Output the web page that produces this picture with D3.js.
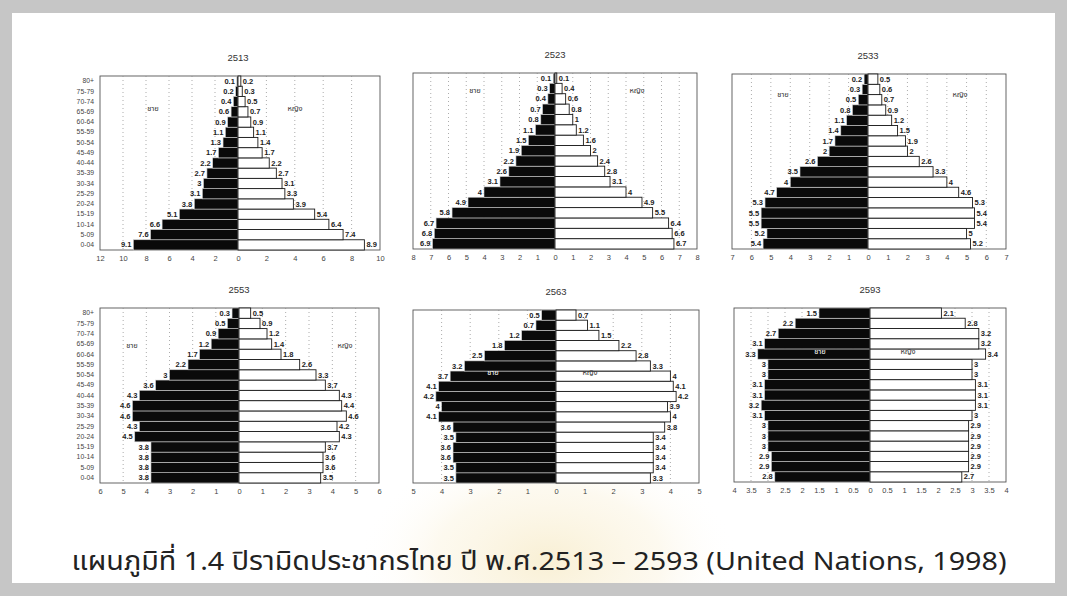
<!DOCTYPE html>
<html><head><meta charset="utf-8">
<script src="https://cdn.jsdelivr.net/npm/d3@7"></script>
<style>
html,body{margin:0;padding:0;background:#c6c6c6;}
svg{display:block;}
</style></head><body>
<svg id="chart" width="1067" height="596"></svg>
<script>
// ---------- data ----------
const ageGroups = ["0-04","5-09","10-14","15-19","20-24","25-29","30-34","35-39","40-44","45-49","50-54","55-59","60-64","65-69","70-74","75-79","80+"];
const years = ["2513","2523","2533","2553","2563","2593"];

const male2513   = [9.1,7.6,6.6,5.1,3.8,3.1,3,2.7,2.2,1.7,1.3,1.1,0.9,0.6,0.4,0.2,0.1];
const female2513 = [8.9,7.4,6.4,5.4,3.9,3.3,3.1,2.7,2.2,1.7,1.4,1.1,0.9,0.7,0.5,0.3,0.2];
const male2523   = [6.9,6.8,6.7,5.8,4.9,4,3.1,2.6,2.2,1.9,1.5,1.1,0.8,0.7,0.4,0.3,0.1];
const female2523 = [6.7,6.6,6.4,5.5,4.9,4,3.1,2.8,2.4,2,1.6,1.2,1,0.8,0.6,0.4,0.1];
const male2533   = [5.4,5.2,5.5,5.5,5.3,4.7,4,3.5,2.6,2,1.7,1.4,1.1,0.8,0.5,0.3,0.2];
const female2533 = [5.2,5,5.4,5.4,5.3,4.6,4,3.3,2.6,2,1.9,1.5,1.2,0.9,0.7,0.6,0.5];
const male2553   = [3.8,3.8,3.8,3.8,4.5,4.3,4.6,4.6,4.3,3.6,3,2.2,1.7,1.2,0.9,0.5,0.3];
const female2553 = [3.5,3.6,3.6,3.7,4.3,4.2,4.6,4.4,4.3,3.7,3.3,2.6,1.8,1.4,1.2,0.9,0.5];
const male2563   = [3.5,3.5,3.6,3.6,3.5,3.6,4.1,4,4.2,4.1,3.7,3.2,2.5,1.8,1.2,0.7,0.5];
const female2563 = [3.3,3.4,3.4,3.4,3.4,3.8,4,3.9,4.2,4.1,4,3.3,2.8,2.2,1.5,1.1,0.7];
const male2593   = [2.8,2.9,2.9,3,3,3,3.1,3.2,3.1,3.1,3,3,3.3,3.1,2.7,2.2,1.5];
const female2593 = [2.7,2.9,2.9,2.9,2.9,2.9,3,3.1,3.1,3.1,3,3,3.4,3.2,3.2,2.8,2.1];

const ticksLeft2513 = [12,10,8,6,4,2,0],        ticksRight2513 = [2,4,6,8,10];
const ticksLeft2523 = [8,7,6,5,4,3,2,1,0],      ticksRight2523 = [1,2,3,4,5,6,7,8];
const ticksLeft2533 = [7,6,5,4,3,2,1,0],        ticksRight2533 = [1,2,3,4,5,6,7];
const ticksLeft2553 = [6,5,4,3,2,1,0],          ticksRight2553 = [1,2,3,4,5,6];
const ticksLeft2563 = [5,4,3,2,1,0],            ticksRight2563 = [1,2,3,4,5];
const ticksLeft2593 = [4,3.5,3,2.5,2,1.5,1,0.5,0], ticksRight2593 = [0.5,1,1.5,2,2.5,3,3.5,4];

const maleLabel = "ชาย", femaleLabel = "หญิง";
const captionText = "แผนภูมิที่ 1.4 ปิรามิดประชากรไทย ปี พ.ศ.2513 – 2593 (United Nations, 1998)";

// ---------- layout ----------
const panelData = [
  {male: male2513, female: female2513, tl: ticksLeft2513, tr: ticksRight2513},
  {male: male2523, female: female2523, tl: ticksLeft2523, tr: ticksRight2523},
  {male: male2533, female: female2533, tl: ticksLeft2533, tr: ticksRight2533},
  {male: male2553, female: female2553, tl: ticksLeft2553, tr: ticksRight2553},
  {male: male2563, female: female2563, tl: ticksLeft2563, tr: ticksRight2563},
  {male: male2593, female: female2593, tl: ticksLeft2593, tr: ticksRight2593}
];
const layout = [
  {L:100,C:238,R:380,T:76,B:250, ages:true,  lm:[153,111], lf:[295,111], inside:false},
  {L:413,C:555,R:697,T:73,B:249, ages:false, lm:[475,93],  lf:[637,93],  inside:false},
  {L:732,C:868,R:1006,T:74,B:249,ages:false, lm:[783,97],  lf:[960,97],  inside:false},
  {L:100,C:239,R:379,T:308,B:483,ages:true,  lm:[132,348], lf:[345,348], inside:false},
  {L:413,C:556,R:699,T:310,B:483,ages:false, lm:[493,375], lf:[590,375], inside:true},
  {L:734,C:870,R:1006,T:308,B:482,ages:false,lm:[820,354], lf:[908,354], inside:true}
];

const svg = d3.select("#chart");
const small = "'Liberation Sans', Arial, sans-serif";
const thai = "'Noto Sans Thai', Tahoma, 'Noto Sans', sans-serif";

svg.append("rect").attr("x",12).attr("y",13).attr("width",1043).attr("height",570).attr("fill","#ffffff");

// faint watermark glow behind the lower middle, clipped to the white sheet
const defs = svg.append("defs");
defs.append("clipPath").attr("id","sheet").append("rect")
  .attr("x",12).attr("y",13).attr("width",1043).attr("height",570);
const rg = defs.append("radialGradient").attr("id","wm").attr("cx","50%").attr("cy","50%").attr("r","50%");
rg.append("stop").attr("offset","0%").attr("stop-color","#f6e9c2").attr("stop-opacity",0.7);
rg.append("stop").attr("offset","60%").attr("stop-color","#faf1d8").attr("stop-opacity",0.4);
rg.append("stop").attr("offset","100%").attr("stop-color","#ffffff").attr("stop-opacity",0);
svg.append("ellipse").attr("clip-path","url(#sheet)")
  .attr("cx",548).attr("cy",560).attr("rx",190).attr("ry",120).attr("fill","url(#wm)");

years.forEach((yr, i) => {
  const d = panelData[i], p = layout[i];
  const g = svg.append("g");
  const maxL = d3.max(d.tl), maxR = d3.max(d.tr);
  const xL = d3.scaleLinear().domain([0, maxL]).range([p.C, p.L]);
  const xR = d3.scaleLinear().domain([0, maxR]).range([p.C, p.R]);
  const y = d3.scaleBand().domain(ageGroups.slice().reverse()).range([p.T, p.B]).padding(0);

  // frame
  g.append("rect").attr("x",p.L).attr("y",p.T).attr("width",p.R-p.L).attr("height",p.B-p.T)
    .attr("fill","#fff").attr("fill-opacity",0.85).attr("stroke","#555").attr("stroke-width",0.9);
  // grid
  g.selectAll(".gl").data(d.tl.filter(v=>v>0 && v<maxL)).join("line")
    .attr("x1",v=>xL(v)).attr("x2",v=>xL(v)).attr("y1",p.T).attr("y2",p.B)
    .attr("stroke","#888").attr("stroke-width",0.7).attr("stroke-dasharray","1,3");
  g.selectAll(".gr").data(d.tr.filter(v=>v>0 && v<maxR)).join("line")
    .attr("x1",v=>xR(v)).attr("x2",v=>xR(v)).attr("y1",p.T).attr("y2",p.B)
    .attr("stroke","#888").attr("stroke-width",0.7).attr("stroke-dasharray","1,3");

  // bars
  const rows = ageGroups.map((a,k)=>({age:a, m:d.male[k], f:d.female[k]}));
  g.selectAll(".mb").data(rows).join("rect")
    .attr("x",r=>xL(r.m)).attr("width",r=>xL(0)-xL(r.m))
    .attr("y",r=>y(r.age)).attr("height",y.bandwidth())
    .attr("fill","#0a0a0a").attr("stroke","#d0d0d0").attr("stroke-width",0.6);
  g.selectAll(".fb").data(rows).join("rect")
    .attr("x",xR(0)).attr("width",r=>xR(r.f)-xR(0))
    .attr("y",r=>y(r.age)).attr("height",y.bandwidth())
    .attr("fill","#fff").attr("stroke","#1a1a1a").attr("stroke-width",0.9);

  // value labels
  g.selectAll(".ml").data(rows).join("text")
    .attr("x",r=>xL(r.m)-2).attr("y",r=>y(r.age)+y.bandwidth()/2+2.6)
    .attr("text-anchor","end").attr("font-family",small).attr("font-size",7.5).attr("font-weight","bold")
    .attr("fill","#222").text(r=>r.m);
  g.selectAll(".fl").data(rows).join("text")
    .attr("x",r=>xR(r.f)+2).attr("y",r=>y(r.age)+y.bandwidth()/2+2.6)
    .attr("text-anchor","start").attr("font-family",small).attr("font-size",7.5).attr("font-weight","bold")
    .attr("fill","#222").text(r=>r.f);

  // axes
  const axL = g.append("g").attr("transform",`translate(0,${p.B+3})`)
    .call(d3.axisBottom(xL).tickValues(d.tl).tickSize(0).tickFormat(v=>v));
  const axR = g.append("g").attr("transform",`translate(0,${p.B+3})`)
    .call(d3.axisBottom(xR).tickValues(d.tr).tickSize(0).tickFormat(v=>v));
  [axL, axR].forEach(ax => {
    ax.select(".domain").remove();
    ax.selectAll("text").attr("font-family",small).attr("font-size",7.5).attr("fill","#444");
  });

  if (p.ages) {
    const ay = g.append("g").attr("transform",`translate(${p.L-3},0)`)
      .call(d3.axisLeft(y).tickSize(0));
    ay.select(".domain").remove();
    ay.selectAll("text").attr("font-family",small).attr("font-size",6.8).attr("fill","#444");
  }

  // title
  svg.append("text").attr("x",p.C).attr("y",p.T-15).attr("text-anchor","middle")
    .attr("font-family",small).attr("font-size",9.5).attr("fill","#333").text(yr);

  // sex labels
  g.append("text").attr("x",p.lm[0]).attr("y",p.lm[1]).attr("text-anchor","middle")
    .attr("font-family",thai).attr("font-size",7.5)
    .attr("fill", p.inside ? "#fff" : "#333").text(maleLabel);
  g.append("text").attr("x",p.lf[0]).attr("y",p.lf[1]).attr("text-anchor","middle")
    .attr("font-family",thai).attr("font-size",7.5)
    .attr("fill","#333").text(femaleLabel);
});

svg.append("text").attr("x",539).attr("y",570).attr("text-anchor","middle")
  .attr("font-family",thai).attr("font-size",26)
  .attr("textLength",935).attr("lengthAdjust","spacingAndGlyphs")
  .attr("fill","#222").text(captionText);
</script>
</body></html>
